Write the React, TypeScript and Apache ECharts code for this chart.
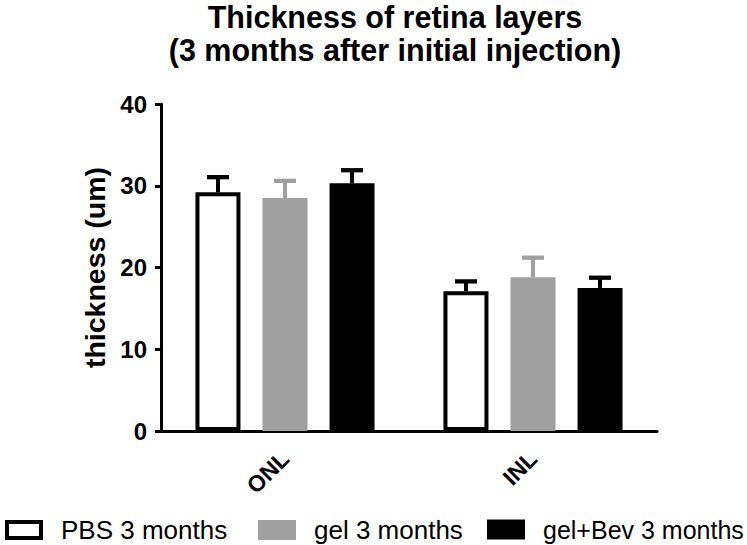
import React, { useEffect, useRef } from 'react';
import * as echarts from 'echarts';

const categories = ['ONL', 'INL'];
const seriesNames = ['PBS 3 months', 'gel 3 months', 'gel+Bev 3 months'];
const pbsMeans = [29.2, 17.1];
const pbsErr = [1.85, 1.2];
const gelMeans = [28.5, 18.8];
const gelErr = [2.1, 2.4];
const bevMeans = [30.3, 17.5];
const bevErr = [1.6, 1.25];
const yMin = 0;
const yMax = 40;
const yStep = 10;

const FONT = '"Liberation Sans", Arial, Helvetica, sans-serif';
const GRAY = '#a0a0a0';

const errSeries = (means: number[], errs: number[], offset: number, color: string) => ({
  type: 'custom',
  z: 5,
  silent: true,
  encode: { x: 0, y: 1 },
  data: means.map((m, i) => [i, m, errs[i]]),
  renderItem: (params: any, api: any) => {
    const i = api.value(0);
    const m = api.value(1);
    const e = api.value(2);
    const p0 = api.coord([i, m]);
    const p1 = api.coord([i, m + e]);
    const x = p0[0] + offset;
    return {
      type: 'group',
      children: [
        { type: 'line', shape: { x1: x, y1: p0[1], x2: x, y2: p1[1] }, style: { stroke: color, lineWidth: 4 } },
        { type: 'line', shape: { x1: x - 11, y1: p1[1], x2: x + 11, y2: p1[1] }, style: { stroke: color, lineWidth: 4.3 } },
      ],
    };
  },
});

export default function App() {
  const ref = useRef<HTMLDivElement>(null);
  useEffect(() => {
    if (!ref.current) return;
    const chart = echarts.init(ref.current, null, { renderer: 'svg' });
    const legendBase = {
      top: 517,
      padding: 0,
      itemWidth: 34,
      itemHeight: 16,
      icon: 'rect',
      selectedMode: false,
    };
    const legendText = (size: number) => ({ fontSize: size, color: '#000', fontFamily: FONT, padding: [0, 0, 0, 15] });
    chart.setOption({
      animation: false,
      backgroundColor: '#fff',
      title: {
        text: 'Thickness of retina layers\n(3 months after initial injection)',
        left: 395,
        textAlign: 'center',
        top: 0,
        padding: 0,
        textStyle: { fontSize: 30.5, fontWeight: 'bold', color: '#000', fontFamily: FONT, lineHeight: 33 },
      },
      legend: [
        { ...legendBase, left: 5, textStyle: legendText(26), data: [{ name: seriesNames[0], itemStyle: { color: '#fff', borderColor: '#000', borderWidth: 4 } }] },
        { ...legendBase, left: 258, textStyle: legendText(26), data: [{ name: seriesNames[1], itemStyle: { color: GRAY, borderColor: GRAY, borderWidth: 4 } }] },
        { ...legendBase, left: 487, textStyle: legendText(25), data: [{ name: seriesNames[2], itemStyle: { color: '#000', borderColor: '#000', borderWidth: 4 } }] },
      ],
      grid: { left: 161, right: 90, top: 104, bottom: 114 },
      xAxis: {
        type: 'category',
        data: categories,
        axisLine: { lineStyle: { color: '#000', width: 3 } },
        axisTick: { alignWithLabel: true, length: 7, lineStyle: { color: '#000', width: 3 } },
        axisLabel: { rotate: 45, fontSize: 23, fontWeight: 'bold', color: '#000', fontFamily: FONT, margin: 24 },
      },
      yAxis: {
        type: 'value',
        min: yMin,
        max: yMax,
        interval: yStep,
        name: 'thickness (um)',
        nameLocation: 'middle',
        nameGap: 45,
        nameTextStyle: { fontSize: 28.5, fontWeight: 'bold', color: '#000', fontFamily: FONT },
        splitLine: { show: false },
        axisLine: { show: true, lineStyle: { color: '#000', width: 3 } },
        axisTick: { show: true, length: 6, lineStyle: { color: '#000', width: 3 } },
        axisLabel: { fontSize: 24, fontWeight: 'bold', color: '#000', fontFamily: FONT, margin: 14 },
      },
      series: [
        {
          name: seriesNames[0], type: 'bar', data: pbsMeans, barWidth: 45, barGap: '49%',
          itemStyle: { color: '#fff', borderColor: '#000', borderWidth: 4 },
        },
        {
          name: seriesNames[1], type: 'bar', data: gelMeans, barWidth: 45, barGap: '49%',
          itemStyle: { color: GRAY, borderColor: GRAY, borderWidth: 4 },
        },
        {
          name: seriesNames[2], type: 'bar', data: bevMeans, barWidth: 45, barGap: '49%',
          itemStyle: { color: '#000', borderColor: '#000', borderWidth: 4 },
        },
        errSeries(pbsMeans, pbsErr, -67, '#000'),
        errSeries(gelMeans, gelErr, 0, GRAY),
        errSeries(bevMeans, bevErr, 67, '#000'),
      ],
    });
    return () => chart.dispose();
  }, []);
  return <div ref={ref} style={{ width: 747, height: 545, position: 'absolute', left: 0, top: 0 }} />;
}
